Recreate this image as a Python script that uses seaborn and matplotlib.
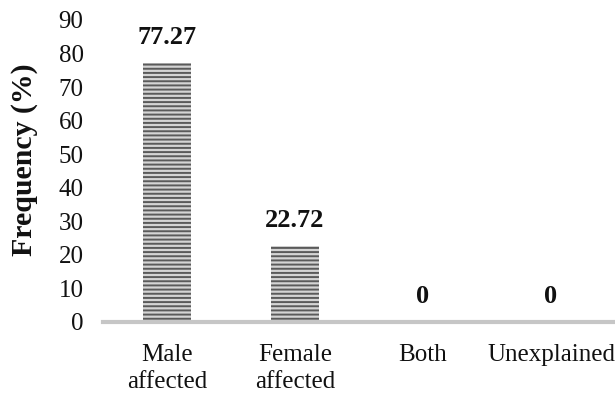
import matplotlib
matplotlib.use("Agg")
import matplotlib.pyplot as plt
import seaborn as sns

# Share of affected cases by category
categories = ["Male\naffected", "Female\naffected", "Both", "Unexplained"]
frequency = [77.27, 22.72, 0, 0]
y_ticks = [0, 10, 20, 30, 40, 50, 60, 70, 80, 90]

sns.set_theme(style="white")
plt.rcParams["font.family"] = ["Liberation Serif", "DejaVu Serif"]
plt.rcParams["hatch.linewidth"] = 1.4
plt.rcParams["hatch.color"] = "#5a5a5a"

fig = plt.figure(figsize=(6.15, 3.96), dpi=100)
ax = fig.add_axes([103 / 615, 1 - 322 / 396, 512 / 615, 302 / 396])

sns.barplot(x=categories, y=frequency, ax=ax, color="#d4d4d4",
            saturation=1, width=0.38, linewidth=0, edgecolor="#5a5a5a")

for bar in ax.patches:
    bar.set_hatch("----")
    bar.set_edgecolor("#5a5a5a")
    bar.set_linewidth(0)

# Value labels above each bar
for i, v in enumerate(frequency):
    ax.annotate(f"{v:g}", xy=(i, v), xytext=(0, 13.5), textcoords="offset points",
                ha="center", va="baseline", fontsize=19, fontweight="bold",
                color="#111111")

ax.set_ylim(0, 90)
ax.set_xlim(-0.5, len(categories) - 0.5)
ax.set_yticks(y_ticks)
ax.tick_params(axis="y", length=0, pad=14, labelsize=18, labelcolor="#111111")
ax.tick_params(axis="x", length=0, pad=16, labelsize=18, labelcolor="#111111")
for lbl in ax.get_xticklabels():
    lbl.set_linespacing(1.3)

for side in ["left", "right", "top"]:
    ax.spines[side].set_visible(False)
ax.spines["bottom"].set_color("#c6c6c6")
ax.spines["bottom"].set_linewidth(3)

ax.set_xlabel("")
ax.set_ylabel("")
fig.text(25 / 615, 1 - 160 / 396, "Frequency (%)", rotation=90, ha="center",
         va="center", fontsize=21.5, fontweight="bold", color="#111111")

fig.savefig("out.png", dpi=100)
